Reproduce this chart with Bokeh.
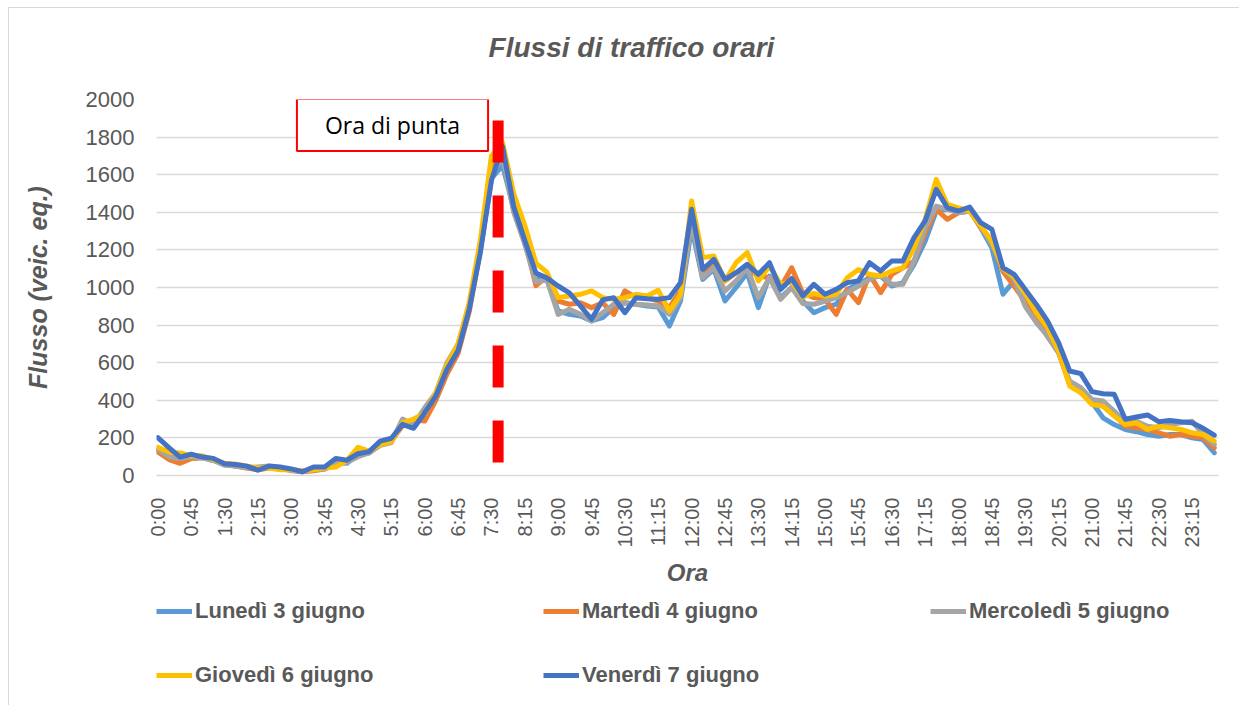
import math
from bokeh.plotting import figure
from bokeh.layouts import column
from bokeh.models import Range1d, FixedTicker, Label, Arrow, Legend, LegendItem
from bokeh.embed import file_html
from bokeh.resources import INLINE

# ---------------- data ----------------
ore = ["0:00", "0:15", "0:30", "0:45", "1:00", "1:15", "1:30", "1:45",
       "2:00", "2:15", "2:30", "2:45", "3:00", "3:15", "3:30", "3:45",
       "4:00", "4:15", "4:30", "4:45", "5:00", "5:15", "5:30", "5:45",
       "6:00", "6:15", "6:30", "6:45", "7:00", "7:15", "7:30", "7:45",
       "8:00", "8:15", "8:30", "8:45", "9:00", "9:15", "9:30", "9:45",
       "10:00", "10:15", "10:30", "10:45", "11:00", "11:15", "11:30", "11:45",
       "12:00", "12:15", "12:30", "12:45", "13:00", "13:15", "13:30", "13:45",
       "14:00", "14:15", "14:30", "14:45", "15:00", "15:15", "15:30", "15:45",
       "16:00", "16:15", "16:30", "16:45", "17:00", "17:15", "17:30", "17:45",
       "18:00", "18:15", "18:30", "18:45", "19:00", "19:15", "19:30", "19:45",
       "20:00", "20:15", "20:30", "20:45", "21:00", "21:15", "21:30", "21:45",
       "22:00", "22:15", "22:30", "22:45", "23:00", "23:15", "23:30", "23:45"]

lunedi = [135, 100, 80, 95, 95, 80, 60, 50, 45, 35,
          45, 40, 30, 20, 35, 40, 70, 65, 110, 120,
          170, 190, 275, 260, 330, 420, 570, 680, 900, 1200,
          1580, 1650, 1420, 1240, 1050, 1040, 875, 857, 848, 822,
          840, 893, 919, 911, 902, 896, 795, 928, 1318, 1043,
          1097, 928, 1000, 1079, 893, 1061, 946, 1000, 928, 866,
          893, 911, 990, 1017, 1052, 1061, 1008, 1026, 1123, 1247,
          1407, 1416, 1407, 1416, 1318, 1211, 964, 1035, 955, 850,
          740, 660, 490, 450, 390, 307, 271, 245, 233, 218,
          209, 218, 218, 200, 191, 121]

martedi = [125, 85, 65, 90, 95, 85, 60, 50, 40, 30,
           40, 40, 30, 20, 25, 35, 65, 75, 115, 125,
           175, 185, 265, 295, 290, 400, 540, 650, 870, 1200,
           1620, 1720, 1440, 1250, 1010, 1060, 928, 911, 919, 893,
           919, 857, 982, 946, 946, 928, 893, 982, 1389, 1079,
           1114, 1035, 1079, 1097, 1061, 1052, 1000, 1105, 970, 946,
           937, 857, 990, 920, 1070, 973, 1070, 1105, 1140, 1291,
           1416, 1362, 1398, 1407, 1318, 1247, 1085, 1008, 925, 840,
           742, 653, 485, 449, 382, 369, 325, 262, 254, 245,
           227, 209, 218, 209, 200, 147]

mercoledi = [140, 100, 90, 100, 95, 80, 55, 50, 40, 45,
             50, 40, 25, 20, 30, 35, 60, 70, 100, 120,
             160, 175, 300, 270, 360, 440, 600, 700, 900, 1220,
             1600, 1700, 1400, 1230, 1030, 1040, 857, 884, 857, 822,
             866, 911, 919, 911, 907, 902, 857, 946, 1354, 1052,
             1105, 982, 1035, 1105, 946, 1052, 937, 1000, 915, 911,
             928, 946, 973, 1008, 1043, 1070, 1017, 1017, 1140, 1318,
             1433, 1416, 1398, 1407, 1327, 1229, 1105, 1045, 900, 813,
             742, 653, 502, 467, 405, 396, 343, 280, 289, 262,
             254, 271, 280, 289, 218, 165]

giovedi = [150, 125, 120, 105, 105, 85, 65, 60, 50, 40,
           40, 30, 30, 25, 30, 40, 45, 80, 150, 130,
           165, 180, 280, 300, 330, 440, 590, 700, 920, 1250,
           1700, 1770, 1500, 1330, 1130, 1080, 946, 955, 964, 982,
           946, 937, 946, 964, 955, 985, 875, 964, 1460, 1159,
           1168, 1035, 1132, 1186, 1035, 1114, 1017, 1030, 950, 968,
           955, 964, 1052, 1096, 1070, 1061, 1088, 1105, 1211, 1362,
           1575, 1442, 1424, 1407, 1327, 1247, 1100, 1057, 968, 866,
           787, 662, 476, 440, 378, 369, 316, 271, 280, 245,
           262, 254, 245, 227, 218, 183]

venerdi = [201, 148, 98, 113, 98, 91, 63, 59, 50, 28,
           50, 45, 35, 20, 45, 45, 91, 81, 116, 127,
           183, 198, 272, 251, 334, 423, 565, 665, 884, 1185,
           1570, 1750, 1430, 1250, 1077, 1050, 1008, 972, 902, 831,
           934, 946, 866, 946, 940, 937, 946, 1026, 1416, 1097,
           1150, 1043, 1079, 1123, 1070, 1132, 990, 1048, 955, 1017,
           964, 990, 1026, 1035, 1132, 1088, 1141, 1141, 1265, 1354,
           1522, 1424, 1407, 1428, 1345, 1309, 1105, 1070, 990, 910,
           822, 707, 556, 542, 446, 435, 432, 299, 311, 322,
           286, 293, 286, 281, 251, 215]

serie = [("Lunedì 3 giugno", lunedi, "#5B9BD5"),
         ("Martedì 4 giugno", martedi, "#ED7D31"),
         ("Mercoledì 5 giugno", mercoledi, "#A5A5A5"),
         ("Giovedì 6 giugno", giovedi, "#FFC000"),
         ("Venerdì 7 giugno", venerdi, "#4472C4")]

titolo = "Flussi di traffico orari"
y_ticks = [0, 200, 400, 600, 800, 1000, 1200, 1400, 1600, 1800, 2000]
ora_di_punta_idx = 30.6   # position of the "peak hour" marker (between 7:30 and 7:45)

for _, s, _c in serie:
    assert len(s) == len(ore)

x = list(range(len(ore)))
tick_idx = x[::3]

# ---------------- layout constants (pixels) ----------------
W = 1230                      # width of every panel
TOP_H = 79                    # title strip
TOP_B = 12                    # room above the plotting frame for the "2000" label
FRAME_L = 156                 # page x of the (aligned) frames' left edge
FRAME_W, FRAME_H = 1062, 376  # plotting frame
BOT_B = 120                   # room for the x axis under the frame
LEG_H = 110                   # legend strip
X0, X1 = -0.12, 95.38
Y0, Y1 = 0, 2000
PAGE_TOP = 8


def px_y(py):
    # page y (reference picture) -> data y of the main plot
    fb = PAGE_TOP + TOP_H + TOP_B + FRAME_H
    return Y0 + (fb - py) / FRAME_H * (Y1 - Y0)


def px_x(px):
    return X0 + (px - FRAME_L) / FRAME_W * (X1 - X0)


GRAY = "#595959"
FONT = "Liberation Sans"

# ---------------- title strip ----------------
p0 = figure(width=W, height=TOP_H, x_range=Range1d(0, FRAME_W), y_range=Range1d(0, TOP_H),
            x_axis_type=None, y_axis_type=None, min_border=0,
            output_backend="svg", toolbar_location=None)
p0.outline_line_color = None
p0.add_layout(Label(x=631 - FRAME_L, y=(PAGE_TOP + TOP_H) - 47, text=titolo,
                    text_align="center", text_baseline="middle",
                    text_font=FONT, text_font_style="bold italic", text_font_size="28px",
                    text_color=GRAY))

# ---------------- main plot ----------------
p = figure(width=W, height=TOP_B + FRAME_H + BOT_B,
           min_border_left=147, min_border_right=W - 147 - FRAME_W,
           min_border_top=TOP_B, min_border_bottom=BOT_B,
           x_range=Range1d(X0, X1), y_range=Range1d(Y0, Y1),
           output_backend="svg", toolbar_location=None,
           background_fill_color="white", border_fill_color="white")
p.outline_line_color = None

p.xgrid.visible = False
p.ygrid.grid_line_color = "#d9d9d9"
p.ygrid.grid_line_width = 1.5

p.yaxis.ticker = FixedTicker(ticks=y_ticks)
p.yaxis.axis_line_color = None
p.yaxis.major_tick_line_color = None
p.yaxis.minor_tick_line_color = None
p.yaxis.major_label_standoff = 16
p.yaxis.major_label_text_font = FONT
p.yaxis.major_label_text_font_size = "22px"
p.yaxis.major_label_text_color = GRAY
p.yaxis.axis_label = "Flusso (veic. eq.)"
p.yaxis.axis_label_text_font = FONT
p.yaxis.axis_label_text_font_style = "bold italic"
p.yaxis.axis_label_text_font_size = "25px"
p.yaxis.axis_label_text_color = GRAY
p.yaxis.axis_label_standoff = 31

p.xaxis.ticker = FixedTicker(ticks=tick_idx)
p.xaxis.major_label_overrides = {i: ore[i] for i in tick_idx}
p.xaxis.major_label_orientation = math.pi / 2
p.xaxis.axis_line_color = "#d9d9d9"
p.xaxis.axis_line_width = 1.5
p.xaxis.major_tick_line_color = None
p.xaxis.minor_tick_line_color = None
p.xaxis.major_label_standoff = 16
p.xaxis.major_label_text_font = FONT
p.xaxis.major_label_text_font_size = "20px"
p.xaxis.major_label_text_color = GRAY
p.xaxis.axis_label = "Ora"
p.xaxis.axis_label_text_font = FONT
p.xaxis.axis_label_text_font_style = "bold italic"
p.xaxis.axis_label_text_font_size = "24px"
p.xaxis.axis_label_text_color = GRAY
p.xaxis.axis_label_standoff = 8

for name, s, col in serie:
    p.line(x, s, line_color=col, line_width=5, line_join="round", line_cap="round")

p.add_layout(Arrow(end=None, x_start=ora_di_punta_idx, y_start=px_y(120),
                   x_end=ora_di_punta_idx, y_end=px_y(535),
                   line_color="#FF0000", line_width=11, line_dash="42 33", line_cap="butt"))

p.add_layout(Label(x=px_x(392), y=px_y(124.5), text="Ora di punta",
                   text_align="center", text_baseline="middle",
                   text_font="Open Sans", text_font_size="23px", text_color="black",
                   background_fill_color="white", border_line_color="#FF0000",
                   border_line_width=2, padding=(28, 10)))

# ---------------- legend strip ----------------
p2 = figure(width=W, height=LEG_H, x_range=Range1d(0, 1), y_range=Range1d(0, 1),
            x_axis_type=None, y_axis_type=None, min_border=0,
            output_backend="svg", toolbar_location=None)
p2.outline_line_color = None
items = []
for name, s, col in serie:
    # same series; they fall outside this strip's ranges, only the legend swatch shows
    r = p2.line(x, s, line_color=col, line_width=5)
    items.append(LegendItem(label=name, renderers=[r]))

leg_style = dict(orientation="horizontal", glyph_width=36, glyph_height=26, label_height=26,
                 label_width=328, label_standoff=3, spacing=20, padding=0, margin=0,
                 border_line_color=None, background_fill_alpha=0,
                 label_text_font=FONT, label_text_font_style="bold",
                 label_text_font_size="22px", label_text_color=GRAY)
strip_bottom = PAGE_TOP + TOP_H + TOP_B + FRAME_H + BOT_B + LEG_H
p2.add_layout(Legend(items=items[:3], location=(0, strip_bottom - (611 - 13) - 26), **leg_style))
p2.add_layout(Legend(items=items[3:], location=(0, strip_bottom - (675 - 13) - 26), **leg_style))

layout = column(p0, p, p2, spacing=0)
layout.styles = {"margin-left": "8px", "margin-top": "7px",
                 "border-left": "1px solid #d9d9d9", "border-top": "1px solid #d9d9d9"}

open("out.html", "w").write(file_html(layout, INLINE))
